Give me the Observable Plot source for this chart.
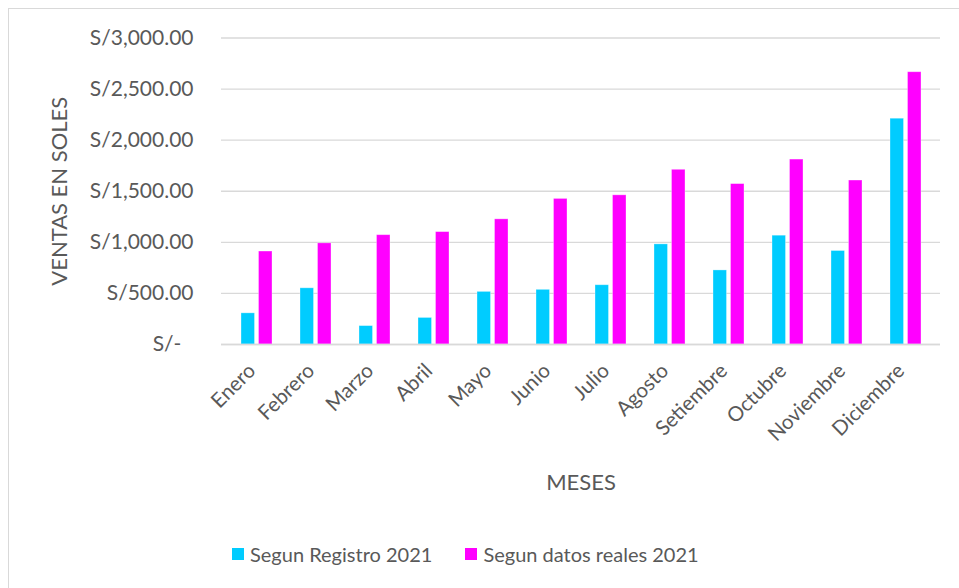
<!DOCTYPE html>
<html>
<head>
<meta charset="utf-8">
<script src="https://cdn.jsdelivr.net/npm/d3@7"></script>
<script src="https://cdn.jsdelivr.net/npm/@observablehq/plot@0.6"></script>
<style>
  html, body { margin: 0; padding: 0; background: #fff; overflow: hidden; width: 959px; height: 588px; }
  body { position: relative; font-family: Lato, "Noto Sans", sans-serif; }
  #frame { position: absolute; left: 8px; top: 8px; width: 980px; height: 600px; border: 1px solid #d9d9d9; box-sizing: border-box; pointer-events: none; }
  #chart { position: absolute; left: 0; top: 0; }
  #legend { position: absolute; left: 232px; top: 542px; display: flex; align-items: center; font-size: 20px; color: #595959; }
  #legend .item { display: flex; align-items: center; }
  #legend .sw { width: 12px; height: 12px; margin-right: 6px; }
  #chart g[aria-label="x-axis label"] text, #chart g[aria-label="y-axis label"] text { font-size: 22px; }
</style>
</head>
<body>
<div id="chart"></div>
<div id="frame"></div>
<div id="legend"></div>
<script>
const months = ["Enero","Febrero","Marzo","Abril","Mayo","Junio","Julio","Agosto","Setiembre","Octubre","Noviembre","Diciembre"];
const registro = [305, 550, 180, 260, 515, 535, 580, 980, 725, 1065, 915, 2210];
const reales = [910, 990, 1070, 1100, 1225, 1425, 1460, 1710, 1570, 1810, 1605, 2665];
const seriesNames = ["Segun Registro 2021", "Segun datos reales 2021"];
const seriesColors = ["#00ccff", "#ff00ff"];
const yTicks = [0, 500, 1000, 1500, 2000, 2500, 3000];

const dataReg = months.map((m, i) => ({month: m, value: registro[i]}));
const dataReal = months.map((m, i) => ({month: m, value: reales[i]}));

const fmt = d3.format(",.2f");
const tickFmt = d => d === 0 ? "S/-\u2007" : "S/" + fmt(d);

const chart = Plot.plot({
  width: 959,
  height: 530,
  marginLeft: 221,
  marginRight: 19,
  marginTop: 37.5,
  marginBottom: 186,
  style: {fontFamily: "Lato, 'Noto Sans', sans-serif", color: "#595959", background: "transparent"},
  x: {domain: months, paddingInner: 0.48, paddingOuter: 0.24, align: 0.5},
  y: {domain: [0, 3000]},
  marks: [
    Plot.gridY(yTicks, {stroke: "#d9d9d9", strokeOpacity: 1, strokeWidth: 1.3}),
    Plot.barY(dataReg, {x: "month", y: "value", fill: seriesColors[0], insetRight: 17.5, stroke: "#ffffff", strokeOpacity: 0.4, strokeWidth: 0.8}),
    Plot.barY(dataReal, {x: "month", y: "value", fill: seriesColors[1], insetLeft: 17.5, stroke: "#ffffff", strokeOpacity: 0.4, strokeWidth: 0.8}),
    Plot.ruleY([0], {stroke: "#d9d9d9", strokeWidth: 1.3}),
    Plot.axisY(yTicks, {tickFormat: tickFmt, tickSize: 0, tickPadding: 28, fontSize: 21, fill: "#595959",
      label: "VENTAS EN SOLES", labelAnchor: "center", labelOffset: 170, labelArrow: "none"}),
    Plot.axisX({tickRotate: -45, tickSize: 0, tickPadding: 23, dx: -5, fontSize: 20.5, fill: "#595959",
      label: "MESES", labelAnchor: "center", labelOffset: 145, labelArrow: "none"})
  ]
});
document.getElementById("chart").appendChild(chart);

const legend = document.getElementById("legend");
seriesNames.forEach((name, i) => {
  const item = document.createElement("div");
  item.className = "item";
  if (i > 0) item.style.marginLeft = "33px";
  const sw = document.createElement("span");
  sw.className = "sw";
  sw.style.background = seriesColors[i];
  const t = document.createElement("span");
  t.textContent = name;
  item.appendChild(sw);
  item.appendChild(t);
  legend.appendChild(item);
});
</script>
</body>
</html>
